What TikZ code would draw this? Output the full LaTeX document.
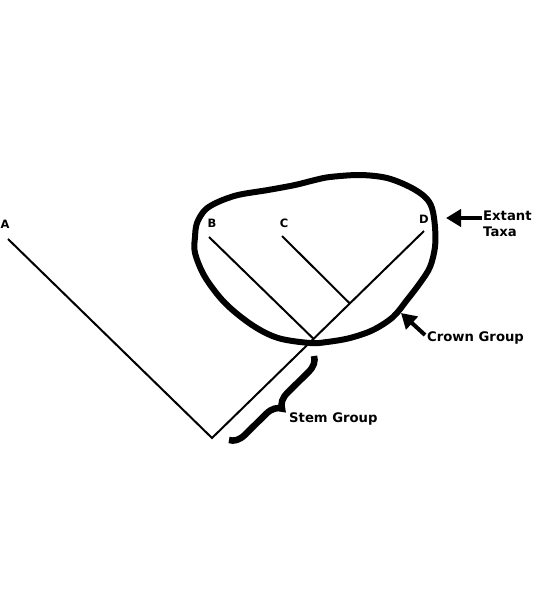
\documentclass[tikz,border=0pt]{standalone}
\usepackage{fontspec}
\setmainfont{DejaVu Sans}
\usetikzlibrary{arrows.meta,decorations.pathreplacing,calc}
\tikzset{
  branch/.style={line width=2pt},
  blob/.style={line width=6pt},
  pointer/.style={line width=4pt,-{Triangle[length=15pt,width=17pt]}},
  taxon/.style={font=\fontsize{11.5}{13}\selectfont\bfseries,inner sep=0pt},
  caption/.style={font=\fontsize{13.2}{16}\selectfont\bfseries,inner sep=0pt,align=left},
  bracestyle/.style={line width=6.5pt,decorate,decoration={brace,amplitude=15pt}}
}
\begin{document}
\begin{tikzpicture}[x=1pt,y=-1pt]
\useasboundingbox (0,0) rectangle (554,605);
% tree
\coordinate (root) at (212,438);
\coordinate (a) at (8,239);
\coordinate (d) at (424,231);
\coordinate (b) at (209,237);
\coordinate (c) at (282,236);
\coordinate (bj) at ($(root)!0.479!(d)$);
\coordinate (cj) at ($(root)!0.650!(d)$);
\draw[branch] (a) -- (root) -- (d);
\draw[branch] (b) -- (bj);
\draw[branch] (c) -- (cj);
% labels
\node[taxon] (la) at (5,224) {A};
\node[taxon] (lb) at (212,223) {B};
\node[taxon] (lc) at (284,223) {C};
\node[taxon] (ld) at (424,219) {D};
% crown blob
\draw[blob] plot[smooth cycle, tension=0.55] coordinates {
  (195,237) (197,223) (205,210) (218,202) (238,195) (268,190) (295,185)
  (315,180) (330,177) (360,175) (387,178) (410,187) (425,197) (432,208)
  (435,227) (435,247) (430,267) (420,283) (407,300) (393,317) (373,330)
  (350,338) (327,342) (310,343) (278,338) (252,325) (225,303) (205,277)
  (195,253)};
% stem brace
\coordinate (bt) at (314,356);
\coordinate (bb) at (229,440);
\draw[bracestyle] (bt) -- (bb);
% captions
\node[caption,anchor=west] (stem) at (289,419) {Stem Group};
\node[caption,anchor=west] (crown) at (427,338) {Crown Group};
\node[caption,anchor=north west] (extant) at (483,211) {Extant\\Taxa};
\coordinate (et) at (446,218);
\coordinate (ct) at (401,313);
\draw[pointer] (extant.west |- et) ++(-1,0) coordinate (es) (es) -- (et);
\draw[pointer] (crown.west) ++(-2,-3) coordinate (cs) (cs) -- (ct);
\end{tikzpicture}
\end{document}
